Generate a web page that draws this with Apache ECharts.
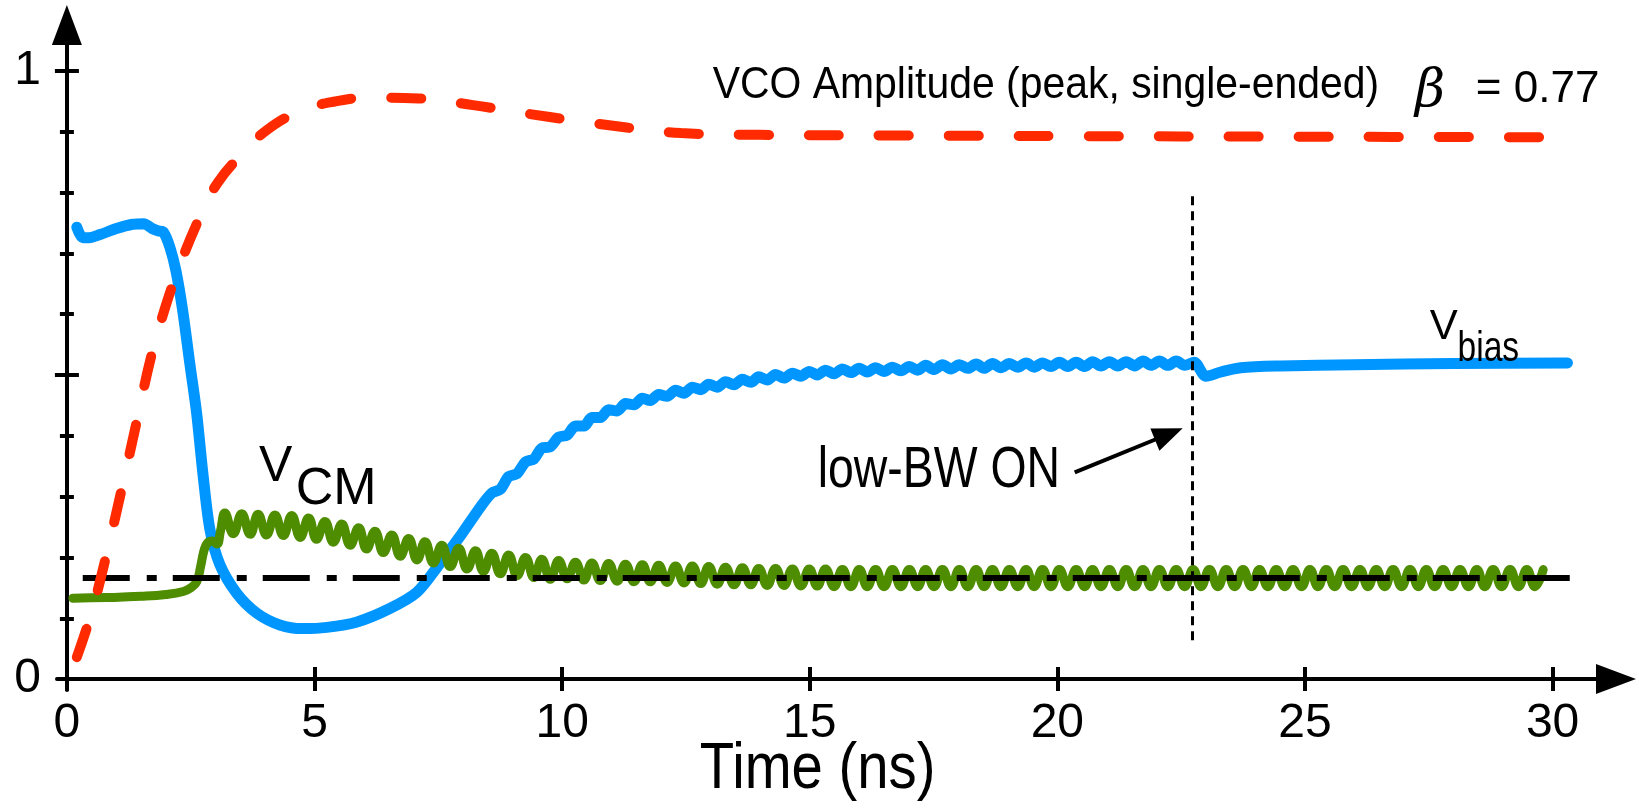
<!DOCTYPE html>
<html>
<head>
<meta charset="utf-8">
<script src="https://cdn.jsdelivr.net/npm/echarts@6/dist/echarts.min.js"></script>
<style>
  html, body { margin: 0; padding: 0; background: #fff; }
  #chart { width: 1639px; height: 811px; }
</style>
</head>
<body>
<div id="chart"></div>
<script>
// axis ranges (time in ns, amplitude normalised)
const xMin = -0.2, xMax = 31.28;
const yMin = -0.018, yMax = 1.0757;
const xTicks = [0, 5, 10, 15, 20, 25, 30];
const yMinorTicks = [0, 0.1, 0.2, 0.3, 0.4, 0.5, 0.6, 0.7, 0.8, 0.9, 1];
const yMajorTicks = [0.5, 1];
const yLabels = [0, 1];

// V_bias (blue): start-up, small ripple while settling, step at low-BW switch
const vbiasStart = [
  [0.20, 0.743], [0.32, 0.726], [0.45, 0.726], [0.67, 0.731], [1.0, 0.741], [1.33, 0.748],
  [1.55, 0.749], [1.72, 0.741], [1.85, 0.737], [1.95, 0.735], [2.08, 0.71], [2.2, 0.672],
  [2.34, 0.605], [2.48, 0.52], [2.62, 0.437], [2.75, 0.335], [2.89, 0.245], [3.09, 0.188],
  [3.43, 0.141], [3.84, 0.108], [4.30, 0.089], [4.76, 0.083], [5.25, 0.085], [5.86, 0.094],
  [6.52, 0.116], [7.07, 0.143], [7.53, 0.19], [7.95, 0.236], [8.35, 0.283]
];
const vbiasRipple = [
  [8.58, 0.306], [8.75, 0.312], [8.92, 0.333], [9.09, 0.338], [9.26, 0.357], [9.43, 0.362],
  [9.59, 0.380], [9.76, 0.382], [9.93, 0.398], [10.10, 0.401], [10.27, 0.416], [10.44, 0.416],
  [10.60, 0.430], [10.77, 0.430], [10.94, 0.443], [11.11, 0.441], [11.28, 0.453], [11.45, 0.451],
  [11.62, 0.462], [11.78, 0.458], [11.95, 0.468], [12.12, 0.465], [12.29, 0.475], [12.46, 0.470],
  [12.63, 0.480], [12.80, 0.476], [12.96, 0.485], [13.13, 0.480], [13.30, 0.489], [13.47, 0.484],
  [13.64, 0.493], [13.81, 0.488], [13.97, 0.497], [14.14, 0.492], [14.31, 0.501], [14.48, 0.495],
  [14.65, 0.503], [14.82, 0.498], [14.99, 0.506], [15.15, 0.500], [15.32, 0.508], [15.49, 0.502],
  [15.66, 0.510], [15.83, 0.504], [16.00, 0.511], [16.16, 0.505], [16.33, 0.512], [16.50, 0.506],
  [16.67, 0.513], [16.84, 0.507], [17.01, 0.514], [17.18, 0.508], [17.34, 0.516], [17.51, 0.509],
  [17.68, 0.517], [17.85, 0.510], [18.02, 0.517], [18.19, 0.511], [18.36, 0.518], [18.52, 0.511],
  [18.69, 0.519], [18.86, 0.512], [19.03, 0.519], [19.20, 0.513], [19.37, 0.520], [19.53, 0.513],
  [19.70, 0.520], [19.87, 0.514], [20.04, 0.521], [20.21, 0.514], [20.38, 0.521], [20.55, 0.514],
  [20.71, 0.522], [20.88, 0.515], [21.05, 0.522], [21.22, 0.515], [21.39, 0.522], [21.56, 0.515],
  [21.73, 0.523], [21.89, 0.516], [22.06, 0.523], [22.23, 0.516], [22.40, 0.523], [22.57, 0.516]
];
const vbiasEnd = [
  [22.76, 0.521], [23.0, 0.498], [23.3, 0.505], [23.7, 0.512], [24.5, 0.515], [26.0, 0.517],
  [28.0, 0.519], [30.3, 0.52]
];

// VCO amplitude (red dashed)
const vco = [
  [0.2, 0.036], [0.5, 0.11], [0.8, 0.205], [1.1, 0.31], [1.4, 0.42], [1.7, 0.53], [2.0, 0.615],
  [2.3, 0.685], [2.73, 0.768], [3.05, 0.817], [3.55, 0.865], [4.04, 0.903], [4.7, 0.934],
  [5.35, 0.949], [6.08, 0.956], [7.1, 0.955], [8.2, 0.944], [9.2, 0.931], [10.3, 0.918],
  [11.3, 0.907], [12.4, 0.898], [14.0, 0.895], [17.0, 0.894], [20.0, 0.893], [25.0, 0.892],
  [30.4, 0.891]
];

// V_CM (green): start-up part, then the ripple peaks / troughs
const vcmStart = [
  [0.12, 0.133], [0.8, 0.134], [1.5, 0.136], [2.0, 0.139], [2.35, 0.144], [2.5, 0.150],
  [2.62, 0.160], [2.70, 0.185], [2.77, 0.212], [2.84, 0.224], [2.94, 0.227], [3.03, 0.222],
  [3.10, 0.243]
];
const vcmT = [
  3.19, 3.36, 3.53, 3.70, 3.86, 4.03, 4.20, 4.37, 4.54, 4.71, 4.88, 5.04, 5.21, 5.38, 5.55, 5.72,
  5.89, 6.05, 6.22, 6.39, 6.56, 6.73, 6.90, 7.07, 7.23, 7.40, 7.57, 7.74, 7.91, 8.08, 8.25, 8.41,
  8.58, 8.75, 8.92, 9.09, 9.26, 9.43, 9.59, 9.76, 9.93, 10.10, 10.27, 10.44, 10.60, 10.77, 10.94,
  11.11, 11.28, 11.45, 11.62, 11.78, 11.95, 12.12, 12.29, 12.46, 12.63, 12.80, 12.96, 13.13,
  13.30, 13.47, 13.64, 13.81, 13.97, 14.14, 14.31, 14.48, 14.65, 14.82, 14.99, 15.15, 15.32,
  15.49, 15.66, 15.83, 16.00, 16.16, 16.33, 16.50, 16.67, 16.84, 17.01, 17.18, 17.34, 17.51,
  17.68, 17.85, 18.02, 18.19, 18.36, 18.52, 18.69, 18.86, 19.03, 19.20, 19.37, 19.53, 19.70,
  19.87, 20.04, 20.21, 20.38, 20.55, 20.71, 20.88, 21.05, 21.22, 21.39, 21.56, 21.73, 21.89,
  22.06, 22.23, 22.40, 22.57, 22.74, 22.90, 23.07, 23.24, 23.41, 23.58, 23.75, 23.92, 24.08,
  24.25, 24.42, 24.59, 24.76, 24.93, 25.10, 25.26, 25.43, 25.60, 25.77, 25.94, 26.11, 26.27,
  26.44, 26.61, 26.78, 26.95, 27.12, 27.29, 27.45, 27.62, 27.79, 27.96, 28.13, 28.30, 28.47,
  28.63, 28.80, 28.97, 29.14, 29.31, 29.48, 29.64, 29.81, 29.98, 30.15
];
const vcmV = [
  0.273, 0.239, 0.272, 0.238, 0.271, 0.237, 0.270, 0.236, 0.269, 0.233, 0.265, 0.230, 0.259,
  0.225, 0.255, 0.220, 0.249, 0.214, 0.243, 0.208, 0.237, 0.202, 0.231, 0.196, 0.226, 0.191,
  0.220, 0.185, 0.215, 0.181, 0.211, 0.177, 0.207, 0.173, 0.204, 0.170, 0.200, 0.167, 0.197,
  0.164, 0.195, 0.165, 0.192, 0.163, 0.191, 0.162, 0.190, 0.161, 0.189, 0.160, 0.188, 0.160,
  0.187, 0.159, 0.186, 0.158, 0.186, 0.157, 0.185, 0.156, 0.184, 0.155, 0.183, 0.155, 0.182,
  0.154, 0.182, 0.154, 0.181, 0.153, 0.181, 0.153, 0.181, 0.152, 0.180, 0.152, 0.180, 0.152,
  0.180, 0.152, 0.180, 0.152, 0.180, 0.152, 0.180, 0.152, 0.180, 0.152, 0.180, 0.152, 0.180,
  0.152, 0.180, 0.152, 0.180, 0.152, 0.180, 0.152, 0.180, 0.152, 0.180, 0.152, 0.180, 0.152,
  0.180, 0.152, 0.180, 0.152, 0.180, 0.152, 0.180, 0.152, 0.180, 0.152, 0.180, 0.152, 0.180,
  0.152, 0.180, 0.152, 0.180, 0.152, 0.180, 0.152, 0.180, 0.152, 0.180, 0.152, 0.180, 0.152,
  0.180, 0.152, 0.180, 0.152, 0.180, 0.152, 0.180, 0.152, 0.180, 0.152, 0.180, 0.152, 0.180,
  0.152, 0.180, 0.152, 0.180, 0.152, 0.180, 0.152, 0.180, 0.152, 0.180, 0.152, 0.180, 0.152,
  0.180, 0.152, 0.180
];

// reference level (dash-dot), low-BW switch instant, arrow
const vref = [[0.32, 0.166], [30.47, 0.166]];
const lowBwTime = 22.73;
const lowBwSpan = [0.064, 0.796];
const arrowFrom = [20.35, 0.34];
const arrowTo = [22.25, 0.403];

// annotations: text, anchor (left-middle, or centre for the axis title), size, horizontal squeeze
const noteText = ['VCO Amplitude (peak, single-ended)', 'β', '= 0.77', 'low-BW ON', 'V', 'CM', 'V', 'bias', 'Time (ns)'];
const notePos = [[13.04, 0.975], [27.22, 0.965], [28.45, 0.969], [15.16, 0.342], [3.88, 0.349],
  [4.62, 0.311], [27.52, 0.578], [28.08, 0.542], [15.16, -0.15]];
const noteSize = [44, 52, 44, 58, 50, 52, 42, 42, 64];
const noteSqueeze = [0.93, 1, 1, 0.8, 1, 1, 1, 0.8, 0.88];

const SANS = "'Liberation Sans', Arial, sans-serif";
const SERIF = "'DejaVu Serif', 'Liberation Serif', serif";
const gridL = 57, gridR = 23, gridT = 25, gridB = 121;
const W = 1639;
// shift the vertical axes so they cross the time axis at t = 0
const yShift = -(0 - xMin) / (xMax - xMin) * (W - gridL - gridR);

const vbias = vbiasStart.concat(vbiasRipple, vbiasEnd);
const vcm = vcmStart.concat(vcmT.map((t, i) => [t, vcmV[i]]));

const chart = echarts.init(document.getElementById('chart'));

function yAx(ticks, len, inside, opts) {
  return Object.assign({
    type: 'value', position: 'left', offset: yShift, min: yMin, max: yMax,
    axisLine: { show: false, onZero: false },
    axisTick: { show: true, customValues: ticks, length: len, inside: inside, lineStyle: { color: '#000', width: 4 } },
    axisLabel: { show: false },
    splitLine: { show: false }
  }, opts || {});
}

chart.setOption({
  animation: false,
  backgroundColor: '#fff',
  grid: { left: gridL, right: gridR, top: gridT, bottom: gridB, containLabel: false, outerBoundsMode: 'none' },
  xAxis: [
    {
      type: 'value', position: 'bottom', min: xMin, max: xMax,
      axisLine: {
        show: true, onZero: true, symbol: ['none', 'triangle'], symbolSize: [30, 40],
        lineStyle: { color: '#000', width: 4 }
      },
      axisTick: { show: true, customValues: xTicks, length: 12, lineStyle: { color: '#000', width: 4 } },
      axisLabel: { show: true, customValues: xTicks, fontSize: 48, fontFamily: SANS, color: '#000', margin: 10 },
      splitLine: { show: false }
    },
    {
      type: 'value', position: 'bottom', min: xMin, max: xMax,
      axisLine: { show: false, onZero: true },
      axisTick: { show: true, customValues: xTicks, length: 12, inside: true, lineStyle: { color: '#000', width: 4 } },
      axisLabel: { show: false },
      splitLine: { show: false }
    }
  ],
  yAxis: [
    yAx(yMinorTicks, 7, false, {
      axisLine: {
        show: true, onZero: false, symbol: ['none', 'triangle'], symbolSize: [30, 40],
        lineStyle: { color: '#000', width: 4 }
      },
      axisLabel: { show: true, customValues: yLabels, fontSize: 48, fontFamily: SANS, color: '#000', margin: 26 }
    }),
    yAx(yMinorTicks, 7, true),
    yAx(yMajorTicks, 12, false),
    yAx(yMajorTicks, 12, true)
  ],
  series: [
    {
      name: 'Vbias', type: 'line', data: vbias, showSymbol: false, smooth: 0.3,
      lineStyle: { color: '#0096ff', width: 11, cap: 'round', join: 'round' }, z: 2
    },
    {
      name: 'VCM', type: 'line', data: vcm, showSymbol: false, smooth: 0.45,
      lineStyle: { color: '#4e8c00', width: 9, cap: 'round', join: 'round' }, z: 3
    },
    {
      name: 'ref', type: 'line', data: vref, showSymbol: false,
      lineStyle: { color: '#000', width: 6, type: [47, 17, 10, 16], cap: 'butt' }, z: 4,
      markLine: {
        silent: true, animation: false, label: { show: false },
        data: [
          [{ coord: [lowBwTime, lowBwSpan[0]], symbol: 'none', lineStyle: { color: '#000', width: 3, type: [9, 6] } },
           { coord: [lowBwTime, lowBwSpan[1]], symbol: 'none' }],
          [{ coord: arrowFrom, symbol: 'none', lineStyle: { color: '#000', width: 4, type: 'solid' } },
           { coord: arrowTo, symbol: 'triangle', symbolSize: [24, 30] }]
        ]
      }
    },
    {
      name: 'VCO', type: 'line', data: vco, showSymbol: false, smooth: 0.4,
      lineStyle: { color: '#ff2a00', width: 10, type: [30, 40], cap: 'round' }, z: 5
    }
  ]
});

// text annotations, anchored in data coordinates
chart.setOption({
  graphic: noteText.map((txt, i) => {
    const p = chart.convertToPixel({ xAxisIndex: 0, yAxisIndex: 0 }, notePos[i]);
    const centred = txt === 'Time (ns)';
    return {
      type: 'text', x: p[0], y: p[1], scaleX: noteSqueeze[i], silent: true, z: 100,
      style: {
        text: txt, fill: '#000', fontSize: noteSize[i],
        fontFamily: i === 1 ? SERIF : SANS, fontStyle: i === 1 ? 'italic' : 'normal',
        align: centred ? 'center' : 'left', verticalAlign: 'middle',
        textAlign: centred ? 'center' : 'left', textVerticalAlign: 'middle'
      }
    };
  })
});
</script>
</body>
</html>
